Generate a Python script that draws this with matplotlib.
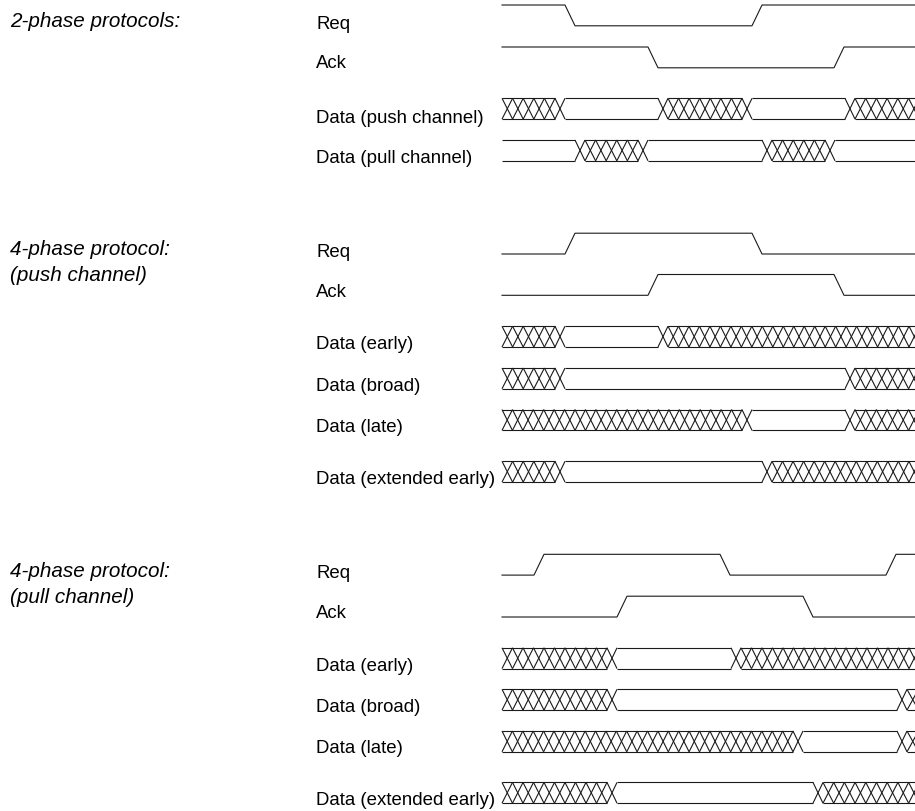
import matplotlib
matplotlib.use("Agg")
import matplotlib.pyplot as plt
from matplotlib.collections import LineCollection
import numpy as np

# ---------------- data (timing events, in diagram time units = px) -------------
# binary signals: initial level (1 = high, 0 = low) and transition start times
req_2ph_init, req_2ph_times = 1, [565, 752]
ack_2ph_init, ack_2ph_times = 1, [648, 834]
# buses: initial state ('x' = don't care / hatched, 'v' = valid), transition times
push_2ph_init, push_2ph_times = 'x', [555, 658, 742, 845]
pull_2ph_init, pull_2ph_times = 'v', [575, 638, 762, 825]

req_push_init, req_push_times = 0, [565, 752]
ack_push_init, ack_push_times = 0, [648, 834]
early_push_init, early_push_times = 'x', [555, 658]
broad_push_init, broad_push_times = 'x', [555, 845]
late_push_init, late_push_times = 'x', [742, 845]
ext_push_init, ext_push_times = 'x', [555, 762]

req_pull_init, req_pull_times = 0, [534, 720, 886]
ack_pull_init, ack_pull_times = 0, [617, 803]
early_pull_init, early_pull_times = 'x', [607, 731]
broad_pull_init, broad_pull_times = 'x', [607, 897]
late_pull_init, late_pull_times = 'x', [793, 897]
ext_pull_init, ext_pull_times = 'x', [607, 813]

section_titles = ["2-phase protocols:", "4-phase protocol:\n(push channel)",
                  "4-phase protocol:\n(pull channel)"]
labels_2ph = ["Req", "Ack", "Data (push channel)", "Data (pull channel)"]
labels_4ph = ["Req", "Ack", "Data (early)", "Data (broad)", "Data (late)",
              "Data (extended early)"]

# ---------------- layout -------------------------------------------------------
W, H = 915, 812
X0, X1 = 502, 930
TW = 10.0      # transition width
CELL = 10.4    # hatch cell width
RH = 20.8      # row height
LC = '#1a1a1a'
LW = 0.8

fig = plt.figure(figsize=(W / 100, H / 100), dpi=100)
ax = fig.add_axes([0, 0, 1, 1])
ax.set_xlim(0, W)
ax.set_ylim(H, 0)
ax.axis('off')

plt.rcParams['font.family'] = ['Liberation Sans', 'DejaVu Sans']


def draw_binary(top, init, times):
    bot = top + RH
    lvl = lambda s: top if s == 1 else bot
    xs, ys = [X0], [lvl(init)]
    s = init
    for t in times:
        xs += [t, t + TW]
        ys += [lvl(s), lvl(1 - s)]
        s = 1 - s
    xs.append(X1)
    ys.append(lvl(s))
    ax.plot(xs, ys, color=LC, lw=LW, solid_joinstyle='miter')


def draw_bus(top, init, times):
    bot = top + RH
    segs = []
    starts = [X0] + [t + TW for t in times]
    ends = list(times) + [X1]
    s = init
    for a, b in zip(starts, ends):
        segs.append([(a, top), (b, top)])
        segs.append([(a, bot), (b, bot)])
        if s == 'x':
            n = max(1, int(round((b - a) / CELL)))
            e = np.linspace(a, b, n + 1)
            for p, q in zip(e[:-1], e[1:]):
                segs.append([(p, top), (q, bot)])
                segs.append([(p, bot), (q, top)])
        s = 'v' if s == 'x' else 'x'
    for t in times:
        segs.append([(t, top), (t + TW, bot)])
        segs.append([(t, bot), (t + TW, top)])
    ax.add_collection(LineCollection(segs, colors=LC, linewidths=LW))


# 2-phase
draw_binary(6, req_2ph_init, req_2ph_times)
draw_binary(48, ack_2ph_init, ack_2ph_times)
draw_bus(99.3, push_2ph_init, push_2ph_times)
draw_bus(141, pull_2ph_init, pull_2ph_times)

# 4-phase push
draw_binary(234.2, req_push_init, req_push_times)
draw_binary(275.5, ack_push_init, ack_push_times)
draw_bus(327.2, early_push_init, early_push_times)
draw_bus(369, broad_push_init, broad_push_times)
draw_bus(410.6, late_push_init, late_push_times)
draw_bus(462.3, ext_push_init, ext_push_times)

# 4-phase pull
draw_binary(555.3, req_pull_init, req_pull_times)
draw_binary(597.2, ack_pull_init, ack_pull_times)
draw_bus(648.8, early_pull_init, early_pull_times)
draw_bus(690.3, broad_pull_init, broad_pull_times)
draw_bus(732, late_pull_init, late_pull_times)
draw_bus(783.4, ext_pull_init, ext_pull_times)

LFS = 13.45
TFS = 14.9
LX = 316
TX = 10

for lab, yb in zip(labels_2ph, [29.3, 68.5, 123.3, 163.3]):
    ax.text(LX, yb, lab, fontsize=LFS, va='baseline', ha='left', color='black')
for yb_list in ([257, 297, 349, 390.7, 432, 484],
                [578.3, 618.3, 670.7, 711.7, 753.3, 805]):
    for lab, yb in zip(labels_4ph, yb_list):
        ax.text(LX, yb, lab, fontsize=LFS, va='baseline', ha='left', color='black')

title_baselines = [[26.7], [255, 281], [576.7, 602.7]]
for title, ybs in zip(section_titles, title_baselines):
    for line, yb in zip(title.split("\n"), ybs):
        ax.text(TX, yb, line, fontsize=TFS, style='italic', va='baseline',
                ha='left', color='black')

fig.savefig("out.png", dpi=100)
